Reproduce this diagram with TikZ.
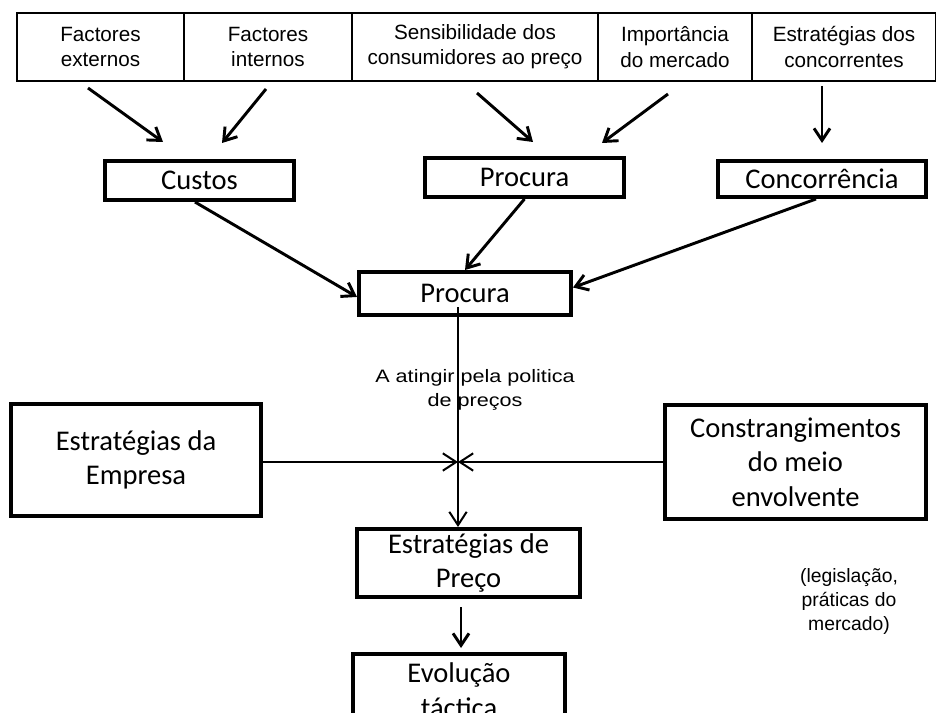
\documentclass[tikz,border=0pt]{standalone}
\usepackage{fontspec}
\setmainfont{Liberation Sans}
\newfontfamily\calib{Carlito}
\newfontfamily\arialw[FakeStretch=1.2]{Liberation Sans}
\usetikzlibrary{arrows.meta}
\begin{document}
\begin{tikzpicture}[x=0.75pt,y=-0.75pt,
  topbox/.style={draw, line width=1.2pt, minimum height=51pt, inner sep=0pt, align=center,
    font=\fontsize{15.5}{19}\selectfont},
  thickbox/.style={draw, line width=3pt, inner sep=0pt, align=center,
    font=\calib\fontsize{21.4}{26}\selectfont},
  arr/.style={-{Straight Barb[length=9pt,width=12pt]}, line width=2.2pt},
  arrthin/.style={-{Straight Barb[length=10pt,width=13pt]}, line width=1.5pt}]
\useasboundingbox[fill=white] (0,0) rectangle (936,713);
% top row
\node[topbox, minimum width=125.25pt] (fe) at (100.5,47) {Factores\\externos};
\node[topbox, minimum width=126pt] (fi) at (268,47) {Factores\\internos};
\node[topbox, minimum width=184.5pt] (sc) at (475,47) {Sensibilidade dos\\consumidores ao preço};
\node[topbox, minimum width=115.5pt] (im) at (675,47) {Importância\\do mercado};
\node[topbox, minimum width=138pt] (ec) at (844,47) {Estratégias dos\\concorrentes};
% second row
\node[thickbox, minimum width=141.75pt, minimum height=29.25pt] (custos) at (199.5,180.5) {Custos};
\node[thickbox, minimum width=149.25pt, minimum height=29.25pt] (proctop) at (524.5,177.5) {Procura};
\node[thickbox, minimum width=156pt, minimum height=27pt] (conc) at (822,179) {Concorrência};
% middle
\node[thickbox, minimum width=159pt, minimum height=32.25pt] (procmid) at (465,293.5) {Procura};
\node[thickbox, minimum width=187.5pt, minimum height=84pt] (empresa) at (136,460) {Estratégias da\\Empresa};
\node[thickbox, minimum width=195.75pt, minimum height=85.5pt] (constr) at (795.5,462) {Constrangimentos\\do meio\\envolvente};
\node[thickbox, minimum width=167.25pt, minimum height=51pt] (preco) at (468.5,563) {Estratégias de\\Preço};
\node[thickbox, minimum width=159pt, minimum height=54.75pt] (evol) at (459,690.5) {Evolução\\táctica};
% labels
\node[align=center, inner sep=0pt, font=\arialw\fontsize{13.5}{18}\selectfont] (lbl) at (475,390) {A atingir pela politica\\de preços};
\node[align=center, inner sep=0pt, font=\fontsize{14.5}{18}\selectfont] (leg) at (849,601) {(legislação,\\práticas do\\mercado)};
% coordinates
\coordinate (a1s) at (88,88);   \coordinate (a1e) at (163,142);
\coordinate (a2s) at (266,89);  \coordinate (a2e) at (222,143);
\coordinate (a3s) at (477,93);  \coordinate (a3e) at (533,142);
\coordinate (a4s) at (668,94);  \coordinate (a4e) at (602,143);
\coordinate (a5s) at (822,86);  \coordinate (a5e) at (822,143);
\coordinate (vtop) at (458,307);
\coordinate (cross) at (458,462);
\coordinate (ax) at (461,0);
% top arrows
\draw[arr] (a1s) -- (a1e);
\draw[arr] (a2s) -- (a2e);
\draw[arr] (a3s) -- (a3e);
\draw[arr] (a4s) -- (a4e);
\draw[arr] (a5s) -- (a5e);
% to middle Procura
\draw[arr] ([xshift=-3.4pt]custos.south) -- ([yshift=-2.6pt]procmid.west);
\draw[arr] (proctop.south) -- (procmid.north);
\draw[arr] ([xshift=-4.5pt]conc.south) -- ([yshift=4.5pt]procmid.east);
% vertical and cross
\draw[arrthin] (vtop) -- (vtop |- preco.north);
\draw[arrthin] (empresa.east |- cross) -- (cross);
\draw[arrthin] (constr.west |- cross) -- (cross);
\draw[arr, shorten <=6pt, shorten >=3pt] (preco.south -| ax) -- (evol.north -| ax);
\end{tikzpicture}
\end{document}
